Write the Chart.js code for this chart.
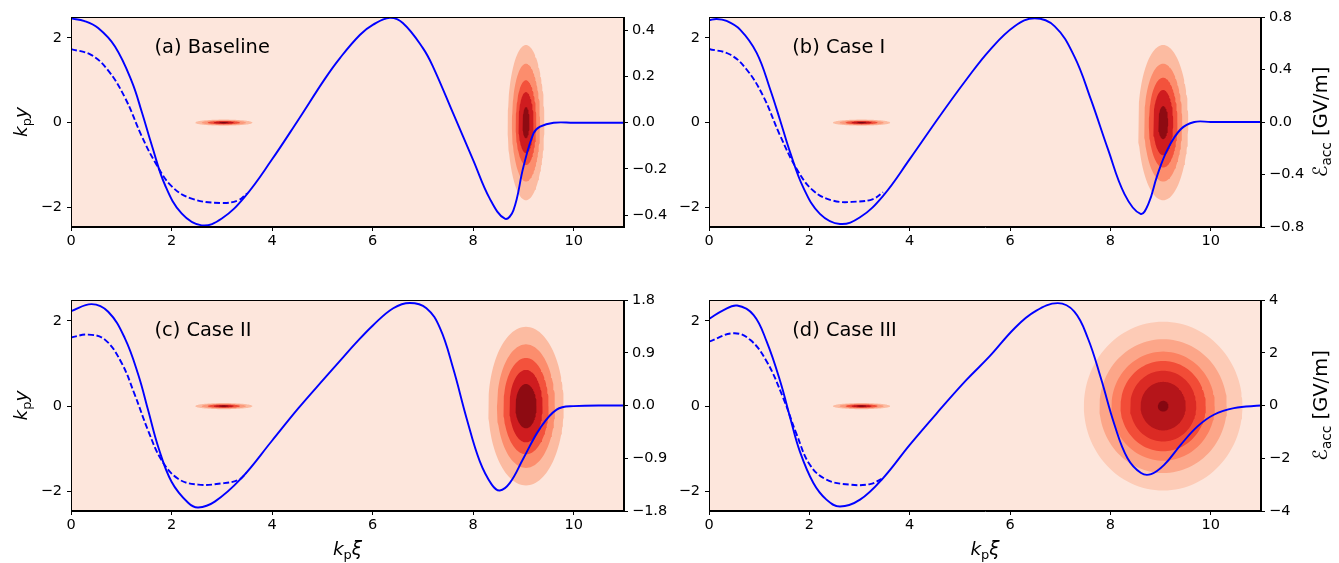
<!DOCTYPE html>
<html><head><meta charset="utf-8">
<script src="https://cdn.jsdelivr.net/npm/chart.js@4.4.1/dist/chart.umd.min.js"></script>
<style>
html,body{margin:0;padding:0;background:#fff;}
#wrap{position:relative;width:1339px;height:563px;overflow:hidden;background:#fff;}
canvas{position:absolute;}
</style></head><body>
<div id="wrap">
<canvas id="pa" width="670" height="282" style="left:0;top:0"></canvas>
<canvas id="pb" width="669" height="282" style="left:670px;top:0"></canvas>
<canvas id="pc" width="670" height="281" style="left:0;top:282px"></canvas>
<canvas id="pd" width="669" height="281" style="left:670px;top:282px"></canvas>
</div>
<script>
// ---------- axes / ticks ----------
const xiRange = [0, 11];
const xiTicks = [0, 2, 4, 6, 8, 10];
const xiTickLabels = ['0', '2', '4', '6', '8', '10'];
const kyRange = [-2.46, 2.49];
const kyTicks = [-2, 0, 2];
const kyTickLabels = ['\u22122', '0', '2'];

const panelLabels = ['(a) Baseline', '(b) Case I', '(c) Case II', '(d) Case III'];

const fieldRangeA = [-0.452, 0.458];
const fieldTicksA = [-0.4, -0.2, 0, 0.2, 0.4];
const fieldTickLabelsA = ['\u22120.4', '\u22120.2', '0.0', '0.2', '0.4'];
const fieldRangeB = [-0.8, 0.8];
const fieldTicksB = [-0.8, -0.4, 0, 0.4, 0.8];
const fieldTickLabelsB = ['\u22120.8', '\u22120.4', '0.0', '0.4', '0.8'];
const fieldRangeC = [-1.8, 1.8];
const fieldTicksC = [-1.8, -0.9, 0, 0.9, 1.8];
const fieldTickLabelsC = ['\u22121.8', '\u22120.9', '0.0', '0.9', '1.8'];
const fieldRangeD = [-4, 4];
const fieldTicksD = [-4, -2, 0, 2, 4];
const fieldTickLabelsD = ['\u22124', '\u22122', '0', '2', '4'];

// ---------- accelerating field (solid) and dashed curves ----------
const xiSolidA = [0, 0.27, 0.54, 0.875, 1.21, 1.41, 1.61, 1.87, 2.2, 2.6, 3.0, 3.46, 3.99, 4.52, 5.05, 5.35, 5.75, 6.01, 6.34, 6.6, 7.0, 7.2, 7.6, 8.0, 8.33, 8.63, 8.8, 9.0, 9.2, 9.33, 9.6, 10, 11];
const eSolidA  = [0.452, 0.44, 0.41, 0.33, 0.178, 0.045, -0.10, -0.27, -0.393, -0.445, -0.415, -0.32, -0.162, 0.012, 0.19, 0.28, 0.381, 0.425, 0.454, 0.432, 0.323, 0.243, 0.041, -0.162, -0.329, -0.416, -0.38, -0.191, -0.046, -0.017, 0, 0, 0];
const xiDashA = [0, 0.4, 0.73, 1.07, 1.41, 1.67, 2.0, 2.4, 3.0, 3.33, 3.5];
const eDashA  = [0.319, 0.294, 0.229, 0.11, -0.06, -0.17, -0.275, -0.329, -0.348, -0.336, -0.307];

const xiSolidB = [0, 0.15, 0.35, 0.62, 0.95, 1.22, 1.42, 1.62, 1.88, 2.21, 2.61, 3.01, 3.47, 4.0, 4.6, 5.13, 5.6, 6.09, 6.49, 6.89, 7.28, 7.61, 7.95, 8.28, 8.6, 8.76, 8.93, 9.14, 9.4, 9.67, 10, 11];
const eSolidB  = [0.775, 0.785, 0.77, 0.704, 0.527, 0.248, 0.01, -0.235, -0.50, -0.70, -0.777, -0.726, -0.562, -0.283, 0.046, 0.324, 0.55, 0.729, 0.79, 0.729, 0.50, 0.172, -0.207, -0.549, -0.70, -0.62, -0.41, -0.207, -0.055, 0, 0, 0];
const xiDashB = [0, 0.42, 0.75, 1.08, 1.42, 1.75, 2.08, 2.48, 2.94, 3.27, 3.47];
const eDashB  = [0.557, 0.514, 0.40, 0.197, -0.106, -0.359, -0.524, -0.60, -0.607, -0.587, -0.536];

const xiSolidC = [0, 0.41, 0.74, 1.07, 1.34, 1.54, 1.74, 2.0, 2.33, 2.53, 2.86, 3.39, 3.99, 4.52, 5.05, 5.35, 5.65, 6.01, 6.41, 6.74, 7.07, 7.34, 7.6, 7.87, 8.13, 8.37, 8.53, 8.73, 9.0, 9.33, 9.66, 9.99, 11];
const eSolidC  = [1.61, 1.73, 1.60, 1.15, 0.52, -0.10, -0.72, -1.30, -1.66, -1.74, -1.64, -1.24, -0.61, -0.05, 0.47, 0.76, 1.05, 1.37, 1.66, 1.75, 1.66, 1.32, 0.64, -0.22, -0.95, -1.35, -1.45, -1.32, -0.90, -0.39, -0.07, -0.01, 0];
const xiDashC = [0, 0.34, 0.68, 1.01, 1.27, 1.54, 1.8, 2.13, 2.53, 2.99, 3.33, 3.49];
const eDashC  = [1.16, 1.21, 1.12, 0.72, 0.18, -0.44, -0.93, -1.25, -1.35, -1.33, -1.27, -1.15];

const xiSolidD = [0, 0.29, 0.56, 0.89, 1.15, 1.42, 1.62, 1.81, 2.08, 2.34, 2.61, 3.01, 3.47, 4.0, 4.6, 5.13, 5.59, 6.09, 6.49, 6.95, 7.28, 7.55, 7.81, 8.08, 8.34, 8.61, 8.81, 9.07, 9.4, 9.73, 10.06, 10.46, 11];
const eSolidD  = [3.28, 3.62, 3.79, 3.43, 2.42, 0.91, -0.48, -1.74, -2.94, -3.57, -3.83, -3.57, -2.75, -1.49, -0.16, 0.97, 1.86, 2.93, 3.56, 3.88, 3.56, 2.55, 1.03, -0.73, -2.0, -2.56, -2.60, -2.25, -1.49, -0.80, -0.35, -0.10, 0];
const xiDashD = [0, 0.49, 0.82, 1.15, 1.48, 1.75, 2.01, 2.34, 2.81, 3.21, 3.47];
const eDashD  = [2.42, 2.74, 2.49, 1.67, 0.28, -1.11, -2.25, -2.81, -3.0, -2.98, -2.75];

// ---------- beam density contours (semi-axes in k_p xi and k_p y) ----------
const driveCenterXi = 9.05;
const witnessCenterXi = 3.04;
const driveHalfXiA = [0.365, 0.28, 0.205, 0.15, 0.07];
const driveHalfKyA = [1.83, 1.39, 1.0, 0.72, 0.37];
const driveHalfXiB = [0.5, 0.38, 0.285, 0.2, 0.1];
const driveHalfKyB = [1.83, 1.39, 1.06, 0.77, 0.39];
const driveHalfXiC = [0.75, 0.577, 0.45, 0.33, 0.21];
const driveHalfKyC = [1.86, 1.45, 1.13, 0.85, 0.52];
const driveHalfXiD = [1.58, 1.27, 1.03, 0.85, 0.66, 0.45, 0.106];
const driveHalfKyD = [1.98, 1.57, 1.28, 1.06, 0.83, 0.57, 0.126];
const witnessHalfXi = [0.57, 0.44, 0.32, 0.2, 0.09];
const witnessHalfKy = [0.072, 0.056, 0.041, 0.027, 0.013];

const levels5 = ['#fcbba1', '#fc8d6d', '#f3523c', '#cf1c1f', '#8e0b12'];
const levels7 = ['#fdcbb6', '#fca689', '#fc8161', '#f24c37', '#db2a24', '#b5151a', '#850711'];
const witnessLevels = ['#fcbba1', '#fb9a7c', '#f0503a', '#c3161b', '#7a0510'];
const bgLevel = '#fde6dc';

// ---------- helpers ----------
const FONT = '"DejaVu Sans", "Liberation Sans", sans-serif';
function ellipsePts(cx, cy, a, b) {
  const pts = [];
  const n = 120;
  for (let k = 0; k <= n; k++) {
    const t = 2 * Math.PI * k / n;
    pts.push({x: cx + a * Math.cos(t), y: cy + b * Math.sin(t)});
  }
  return pts;
}
function zipXY(xs, ys) { return xs.map((x, i) => ({x: x, y: ys[i]})); }
function segFont(s, size) {
  const sz = s.sub ? size * 0.7 : size;
  return (s.it ? 'italic ' : '') + sz + 'px ' + FONT;
}
function drawRich(ctx, segs, cx, cy, size, rot) {
  ctx.save();
  ctx.translate(cx, cy);
  ctx.rotate(rot);
  let w = 0;
  for (const s of segs) { ctx.font = segFont(s, size); w += ctx.measureText(s.t).width; }
  let x = -w / 2;
  ctx.textBaseline = 'alphabetic';
  ctx.textAlign = 'left';
  ctx.fillStyle = '#000';
  const base = size * 0.36;
  for (const s of segs) {
    ctx.font = segFont(s, size);
    ctx.fillText(s.t, x, base + (s.sub ? size * 0.22 : 0));
    x += ctx.measureText(s.t).width;
  }
  ctx.restore();
}
const titleKpy = [{t: 'k', it: true}, {t: 'p', sub: true}, {t: 'y', it: true}];
const titleKpXi = [{t: 'k', it: true}, {t: 'p', sub: true}, {t: '\u03be', it: true}];
const titleEacc = [{t: '\u2130'}, {t: 'acc', sub: true}, {t: ' [GV/m]'}];

const decor = {
  id: 'decor',
  beforeDatasetsDraw(chart) {
    const {ctx, chartArea: a} = chart;
    ctx.save();
    ctx.fillStyle = bgLevel;
    ctx.fillRect(a.left, a.top, a.right - a.left, a.bottom - a.top);
    ctx.restore();
  },
  afterDraw(chart, args, opts) {
    const {ctx, chartArea: a} = chart;
    ctx.save();
    ctx.strokeStyle = '#000';
    ctx.lineWidth = 1;
    ctx.strokeRect(Math.round(a.left) + 0.5, Math.round(a.top) + 0.5, Math.round(a.right - a.left) - 1, Math.round(a.bottom - a.top) - 1);
    ctx.fillStyle = '#000';
    ctx.font = '19.4px ' + FONT;
    ctx.textAlign = 'left';
    ctx.textBaseline = 'alphabetic';
    ctx.fillText(opts.label, chart.scales.x.getPixelForValue(1.66), chart.scales.y.getPixelForValue(1.64));
    ctx.restore();
    const cy = (a.top + a.bottom) / 2;
    if (opts.leftTitle) drawRich(ctx, titleKpy, a.left - 51, cy, 18.5, -Math.PI / 2);
    if (opts.rightTitle) drawRich(ctx, titleEacc, a.right + 59, cy, 19.5, -Math.PI / 2);
    if (opts.xTitle) drawRich(ctx, titleKpXi, (a.left + a.right) / 2, a.bottom + 37, 18.5, 0);
  }
};

function makePanel(p) {
  const datasets = [];
  datasets.push({data: zipXY(p.xiS, p.eS), yAxisID: 'y2', borderColor: '#0000ff', borderWidth: 1.9,
    pointRadius: 0, cubicInterpolationMode: 'default', tension: 0.4, fill: false, order: 0});
  datasets.push({data: zipXY(p.xiD, p.eD), yAxisID: 'y2', borderColor: '#0000ff', borderWidth: 1.9,
    borderDash: [6, 2.6], pointRadius: 0, cubicInterpolationMode: 'default', tension: 0.4, fill: false, order: 0});
  const n = p.dA.length;
  for (let i = 0; i < n; i++) {
    datasets.push({data: ellipsePts(driveCenterXi, 0, p.dA[i], p.dB[i]), yAxisID: 'y',
      borderWidth: 0, borderColor: 'rgba(0,0,0,0)', backgroundColor: p.dCol[i], fill: 'shape',
      pointRadius: 0, tension: 0, order: 100 - i});
  }
  for (let i = 0; i < witnessHalfXi.length; i++) {
    datasets.push({data: ellipsePts(witnessCenterXi, 0, witnessHalfXi[i], witnessHalfKy[i]), yAxisID: 'y',
      borderWidth: 0, borderColor: 'rgba(0,0,0,0)', backgroundColor: witnessLevels[i], fill: 'shape',
      pointRadius: 0, tension: 0, order: 50 - i});
  }
  const tickFont = {family: FONT, size: 14.5};
  const gridOpts = {drawOnChartArea: false, drawTicks: true, tickLength: 4, color: '#000', lineWidth: 1};
  const borderOpts = {display: true, color: '#000', width: 1};
  new Chart(document.getElementById(p.id), {
    type: 'line',
    data: {datasets: datasets},
    plugins: [decor],
    options: {
      responsive: false, maintainAspectRatio: false, animation: false,
      layout: {padding: {top: p.top, left: 0, right: 0, bottom: 0}},
      plugins: {legend: {display: false}, tooltip: {enabled: false},
        decor: {label: p.label, leftTitle: p.leftTitle, rightTitle: p.rightTitle, xTitle: p.xTitle}},
      scales: {
        x: {type: 'linear', position: 'bottom', min: xiRange[0], max: xiRange[1],
          afterBuildTicks: (s) => { s.ticks = xiTicks.map(v => ({value: v})); },
          afterFit: (s) => { s.height = p.bottomH; },
          ticks: {font: tickFont, color: '#000', padding: 2, maxRotation: 0, autoSkip: false,
            callback: (v, i) => xiTickLabels[i]},
          grid: gridOpts, border: borderOpts},
        y: {type: 'linear', position: 'left', min: kyRange[0], max: kyRange[1],
          afterBuildTicks: (s) => { s.ticks = kyTicks.map(v => ({value: v})); },
          afterFit: (s) => { s.width = p.leftW; },
          ticks: {font: tickFont, color: '#000', padding: 5, autoSkip: false,
            callback: (v, i) => kyTickLabels[i]},
          grid: gridOpts, border: borderOpts},
        y2: {type: 'linear', position: 'right', min: p.fRange[0], max: p.fRange[1],
          afterBuildTicks: (s) => { s.ticks = p.fTicks.map(v => ({value: v})); },
          afterFit: (s) => { s.width = p.rightW; },
          ticks: {font: tickFont, color: '#000', padding: 4, autoSkip: false,
            callback: (v, i) => p.fLabels[i]},
          grid: gridOpts, border: borderOpts}
      }
    }
  });
}

makePanel({id: 'pa', label: panelLabels[0], xiS: xiSolidA, eS: eSolidA, xiD: xiDashA, eD: eDashA,
  fTicks: fieldTicksA, fLabels: fieldTickLabelsA, fRange: fieldRangeA,
  dA: driveHalfXiA, dB: driveHalfKyA, dCol: levels5,
  leftW: 71, rightW: 46, top: 17, bottomH: 55, leftTitle: true, rightTitle: false, xTitle: false});
makePanel({id: 'pb', label: panelLabels[1], xiS: xiSolidB, eS: eSolidB, xiD: xiDashB, eD: eDashB,
  fTicks: fieldTicksB, fLabels: fieldTickLabelsB, fRange: fieldRangeB,
  dA: driveHalfXiB, dB: driveHalfKyB, dCol: levels5,
  leftW: 39, rightW: 78, top: 17, bottomH: 55, leftTitle: false, rightTitle: true, xTitle: false});
makePanel({id: 'pc', label: panelLabels[2], xiS: xiSolidC, eS: eSolidC, xiD: xiDashC, eD: eDashC,
  fTicks: fieldTicksC, fLabels: fieldTickLabelsC, fRange: fieldRangeC,
  dA: driveHalfXiC, dB: driveHalfKyC, dCol: levels5,
  leftW: 71, rightW: 46, top: 18, bottomH: 52, leftTitle: true, rightTitle: false, xTitle: true});
makePanel({id: 'pd', label: panelLabels[3], xiS: xiSolidD, eS: eSolidD, xiD: xiDashD, eD: eDashD,
  fTicks: fieldTicksD, fLabels: fieldTickLabelsD, fRange: fieldRangeD,
  dA: driveHalfXiD, dB: driveHalfKyD, dCol: levels7,
  leftW: 39, rightW: 78, top: 18, bottomH: 52, leftTitle: false, rightTitle: true, xTitle: true});
</script>
</body></html>
